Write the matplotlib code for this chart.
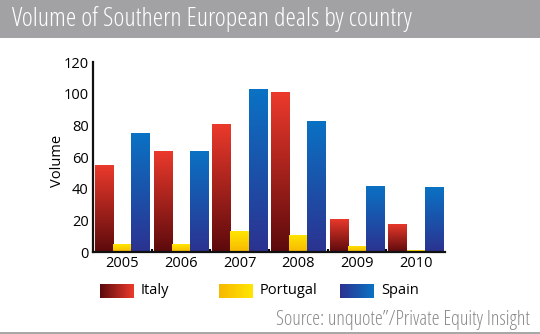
import numpy as np
import matplotlib
matplotlib.use("Agg")
import matplotlib.pyplot as plt
from matplotlib.colors import LinearSegmentedColormap
from matplotlib.patches import Rectangle

years = ["2005", "2006", "2007", "2008", "2009", "2010"]
italy = [55, 64, 81, 101, 21, 18]
portugal = [5, 5, 13, 11, 4, 1]
spain = [75, 64, 103, 83, 42, 41]

countries = ["Italy", "Portugal", "Spain"]
# (top colour, bottom colour)
grads = {
    "Italy": ("#ec3a2c", "#5c0a0c"),
    "Portugal": ("#ffe600", "#f7b800"),
    "Spain": ("#0a72c4", "#2c3290"),
}

plt.rcParams["font.family"] = ["Open Sans", "DejaVu Sans"]
narrow = dict(family=["Open Sans", "DejaVu Sans"], stretch="condensed", weight="light")

fig = plt.figure(figsize=(5.4, 3.34), dpi=100)
fig.patch.set_facecolor("white")

# grey title band
fig.patches.append(Rectangle((0, 0.886), 1, 0.114, transform=fig.transFigure,
                             facecolor="#a2a2a5", edgecolor="none", zorder=0))
fig.text(0.022, 0.943, "Volume of Southern European deals by country", color="white",
         fontsize=19, va="center", ha="left", **narrow)
# thin bottom rule
fig.patches.append(Rectangle((0, 0), 1, 0.006, transform=fig.transFigure,
                             facecolor="#a8a8a8", edgecolor="none"))

ax = fig.add_axes([0.172, 0.2455, 0.652, 0.5685])
x = np.arange(len(years))
w = 0.31


def gradient_fill(ax, bars, top, bottom):
    cmap = LinearSegmentedColormap.from_list("g", [bottom, top])
    grad = np.linspace(0, 1, 256).reshape(-1, 1)
    for b in bars:
        x0, y0 = b.get_x(), b.get_y()
        bw, bh = b.get_width(), b.get_height()
        im = ax.imshow(grad, cmap=cmap, origin="lower", aspect="auto",
                       extent=[x0, x0 + bw, y0, y0 + bh], zorder=2)
        im.set_clip_path(b)
        b.set_facecolor("none")


for i, (name, vals) in enumerate(zip(countries, [italy, portugal, spain])):
    bars = ax.bar(x + (i - 1) * w, vals, w, edgecolor="none", zorder=1)
    gradient_fill(ax, bars, *grads[name])

ax.set_xlim(-0.5, len(years) - 0.5)
ax.set_ylim(0, 120)
ax.set_yticks(range(0, 121, 20))
ax.set_xticks(x)
ax.set_xticklabels(years)
ax.set_xticks(np.arange(0.5, len(years) - 0.5, 1), minor=True)
ax.tick_params(axis="x", which="major", length=0, labelsize=10.5, pad=3)
ax.tick_params(axis="x", which="minor", length=2, width=1.5, direction="in")
ax.tick_params(axis="y", length=0, labelsize=10.5, pad=3)
ax.set_ylabel("Volume", fontsize=10.5)
ax.yaxis.set_label_coords(-0.08, 0.48)
for s in ["top", "right"]:
    ax.spines[s].set_visible(False)
for s in ["left", "bottom"]:
    ax.spines[s].set_linewidth(1.6)
    ax.spines[s].set_color("#111111")

# legend with gradient swatches
lax = fig.add_axes([0, 0, 1, 1], facecolor="none")
lax.axis("off")
legend_x = [100, 219, 340]
for name, lx in zip(countries, legend_x):
    top, bottom = grads[name]
    cmap = LinearSegmentedColormap.from_list("g", [bottom, top])
    grad = np.linspace(0, 1, 64).reshape(1, -1)
    lax.imshow(grad, cmap=cmap, aspect="auto", extent=[lx, lx + 34, 298, 284])
    lax.text(lx + 41, 291, name, fontsize=10.5, va="center", ha="left")
lax.set_xlim(0, 540)
lax.set_ylim(334, 0)

fig.text(0.982, 0.042, "Source: unquote\u201d/Private Equity Insight", color="#8a8a8a",
         fontsize=14.5, ha="right", va="center", **narrow)

fig.savefig("out.png", dpi=100)
